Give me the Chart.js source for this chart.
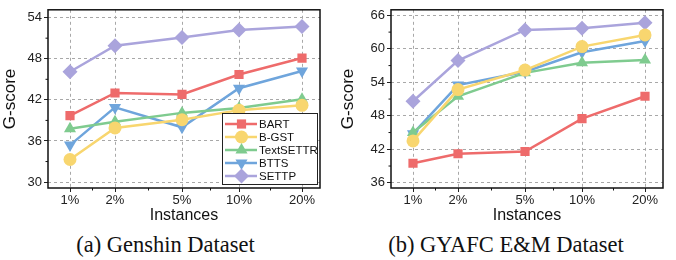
<!DOCTYPE html>
<html>
<head>
<meta charset="utf-8">
<script src="https://cdn.jsdelivr.net/npm/chart.js@4.4.0/dist/chart.umd.min.js"></script>
<style>
  html, body { margin: 0; padding: 0; background: #fff; }
  body { width: 676px; height: 260px; position: relative; overflow: hidden; }
  .panel { position: absolute; top: 0; width: 338px; height: 225px; }
  .caption { position: absolute; top: 232px; line-height: 26px; font-family: "Liberation Serif", "Times New Roman", serif; font-size: 22.5px; color: #111; white-space: nowrap; }
</style>
</head>
<body>
<div class="panel" style="left:0"><canvas id="genshinChart" width="338" height="225"></canvas></div>
<div class="panel" style="left:338px"><canvas id="gyafcChart" width="338" height="225"></canvas></div>
<div class="caption" style="left:0;width:331px;text-align:center">(a) Genshin Dataset</div>
<div class="caption" style="left:338px;width:336px;text-align:center">(b) GYAFC E&amp;M Dataset</div>
<script>
// data
const instances = ['1%', '2%', '5%', '10%', '20%'];
const methods = ['BART', 'B-GST', 'TextSETTR', 'BTTS', 'SETTP'];

const genshinBart = [39.7, 43.0, 42.8, 45.7, 48.1];
const genshinBgst = [33.3, 37.9, 39.1, 40.5, 41.2];
const genshinTextsettr = [37.8, 38.8, 40.1, 40.8, 42.1];
const genshinBtts = [35.4, 40.9, 38.0, 43.7, 46.2];
const genshinSettp = [46.1, 49.9, 51.1, 52.2, 52.7];

const gyafcBart = [39.5, 41.2, 41.6, 47.5, 51.5];
const gyafcBgst = [43.5, 52.7, 56.2, 60.4, 62.5];
const gyafcTextsettr = [45.0, 51.5, 55.7, 57.5, 58.0];
const gyafcBtts = [44.8, 53.5, 55.9, 59.4, 61.4];
const gyafcSettp = [50.6, 57.9, 63.4, 63.7, 64.7];

const genshinTicks = [30, 36, 42, 48, 54];
const gyafcTicks = [36, 42, 48, 54, 60, 66];

// layout: the instance ticks are not evenly spaced in the original
const tickOffsets = [0, 45, 112, 169, 232];

const colors = ['#ee6b6b', '#f8d66f', '#7fcb8f', '#6fa5dc', '#aaa4dc'];
const markers = [
    { pointStyle: 'rect', radius: 6.5, rotation: 0 },
    { pointStyle: 'circle', radius: 6.5, rotation: 0 },
    { pointStyle: 'triangle', radius: 7, rotation: 0 },
    { pointStyle: 'triangle', radius: 7, rotation: 180 },
    { pointStyle: 'rectRot', radius: 7.5, rotation: 0 }
];
const FONT = '"Liberation Sans", Arial, sans-serif';

function makeDatasets(series) {
    return series.map((values, i) => ({
        label: methods[i],
        data: values.map((v, j) => ({ x: tickOffsets[j], y: v })),
        borderColor: colors[i],
        backgroundColor: colors[i],
        borderWidth: 2.5,
        pointStyle: markers[i].pointStyle,
        pointRadius: markers[i].radius,
        pointRotation: markers[i].rotation,
        pointBorderColor: colors[i],
        pointBackgroundColor: colors[i],
        pointBorderWidth: 0,
        tension: 0
    }));
}

// frame, minor ticks and in-plot legend
const framePlugin = {
    id: 'frame',
    afterDraw(chart, args, opts) {
        const { ctx, chartArea: a, scales } = chart;
        ctx.save();
        ctx.strokeStyle = '#111';
        ctx.lineWidth = 1.5;
        ctx.strokeRect(a.left, a.top, a.right - a.left, a.bottom - a.top);

        // minor ticks on the y axis
        ctx.lineWidth = 1;
        const yt = opts.yTicks;
        for (let i = 0; i < yt.length - 1; i++) {
            const y = scales.y.getPixelForValue((yt[i] + yt[i + 1]) / 2);
            ctx.beginPath();
            ctx.moveTo(a.left - 2.5, y);
            ctx.lineTo(a.left, y);
            ctx.stroke();
        }
        // minor ticks on the x axis
        for (let i = 0; i < tickOffsets.length - 1; i++) {
            const x = scales.x.getPixelForValue((tickOffsets[i] + tickOffsets[i + 1]) / 2);
            ctx.beginPath();
            ctx.moveTo(x, a.bottom);
            ctx.lineTo(x, a.bottom + 2.5);
            ctx.stroke();
        }

        if (opts.legend) {
            const L = opts.legend;
            ctx.fillStyle = '#fff';
            ctx.fillRect(L.x, L.y, L.w, L.h);
            ctx.strokeStyle = '#222';
            ctx.lineWidth = 1;
            ctx.strokeRect(L.x + 0.5, L.y + 0.5, L.w, L.h);
            ctx.font = '11.5px ' + FONT;
            ctx.textBaseline = 'middle';
            chart.data.datasets.forEach((ds, i) => {
                const cy = L.y + 11 + i * 13;
                ctx.strokeStyle = ds.borderColor;
                ctx.lineWidth = 2.5;
                ctx.beginPath();
                ctx.moveTo(L.x + 3, cy);
                ctx.lineTo(L.x + 35, cy);
                ctx.stroke();
                ctx.fillStyle = ds.borderColor;
                Chart.helpers.drawPoint(ctx, {
                    pointStyle: ds.pointStyle,
                    radius: ds.pointRadius,
                    rotation: ds.pointRotation,
                    borderWidth: 0
                }, L.x + 19.5, cy);
                ctx.fillStyle = '#111';
                ctx.fillText(ds.label, L.x + 37, cy + 0.5);
            });
        }
        ctx.restore();
    }
};

function buildChart(id, series, yTicks, yMin, yMax, padding, yWidth, legend) {
    return new Chart(document.getElementById(id), {
        type: 'line',
        data: { datasets: makeDatasets(series) },
        options: {
            responsive: false,
            animation: false,
            layout: { padding: padding },
            plugins: {
                legend: { display: false },
                tooltip: { enabled: false },
                frame: { yTicks: yTicks, legend: legend }
            },
            scales: {
                x: {
                    type: 'linear',
                    min: -22,
                    max: 250,
                    afterBuildTicks: (s) => { s.ticks = tickOffsets.map(v => ({ value: v })); },
                    afterFit: (s) => { s.height = 37; },
                    ticks: {
                        autoSkip: false,
                        maxRotation: 0,
                        padding: 1,
                        color: '#222',
                        font: { family: FONT, size: 13 },
                        callback: (v) => instances[tickOffsets.indexOf(v)]
                    },
                    grid: { color: '#a8a8a8', lineWidth: 1, tickLength: 4, tickColor: '#222', tickBorderDash: [] },
                    border: { display: false, dash: [3, 3] },
                    title: {
                        display: true,
                        text: 'Instances',
                        color: '#111',
                        padding: { top: -4, bottom: 0 },
                        font: { family: FONT, size: 16 }
                    }
                },
                y: {
                    min: yMin,
                    max: yMax,
                    afterBuildTicks: (s) => { s.ticks = yTicks.map(v => ({ value: v })); },
                    afterFit: (s) => { s.width = yWidth; },
                    ticks: {
                        padding: 2,
                        color: '#222',
                        font: { family: FONT, size: 13 }
                    },
                    grid: { color: '#a8a8a8', lineWidth: 1, tickLength: 4, tickColor: '#222', tickBorderDash: [] },
                    border: { display: false, dash: [3, 3] },
                    title: {
                        display: true,
                        text: 'G-score',
                        color: '#111',
                        padding: { top: 0, bottom: 2 },
                        font: { family: FONT, size: 17 }
                    }
                }
            }
        },
        plugins: [framePlugin]
    });
}

buildChart('genshinChart',
    [genshinBart, genshinBgst, genshinTextsettr, genshinBtts, genshinSettp],
    genshinTicks, 29.14, 55.14, { top: 6, right: 18, left: 0, bottom: 0 }, 48,
    { x: 222, y: 113, w: 95, h: 71 });

buildChart('gyafcChart',
    [gyafcBart, gyafcBgst, gyafcTextsettr, gyafcBtts, gyafcSettp],
    gyafcTicks, 35.06, 67.0, { top: 7, right: 13, left: 0, bottom: 0 }, 53,
    null);
</script>
</body>
</html>
